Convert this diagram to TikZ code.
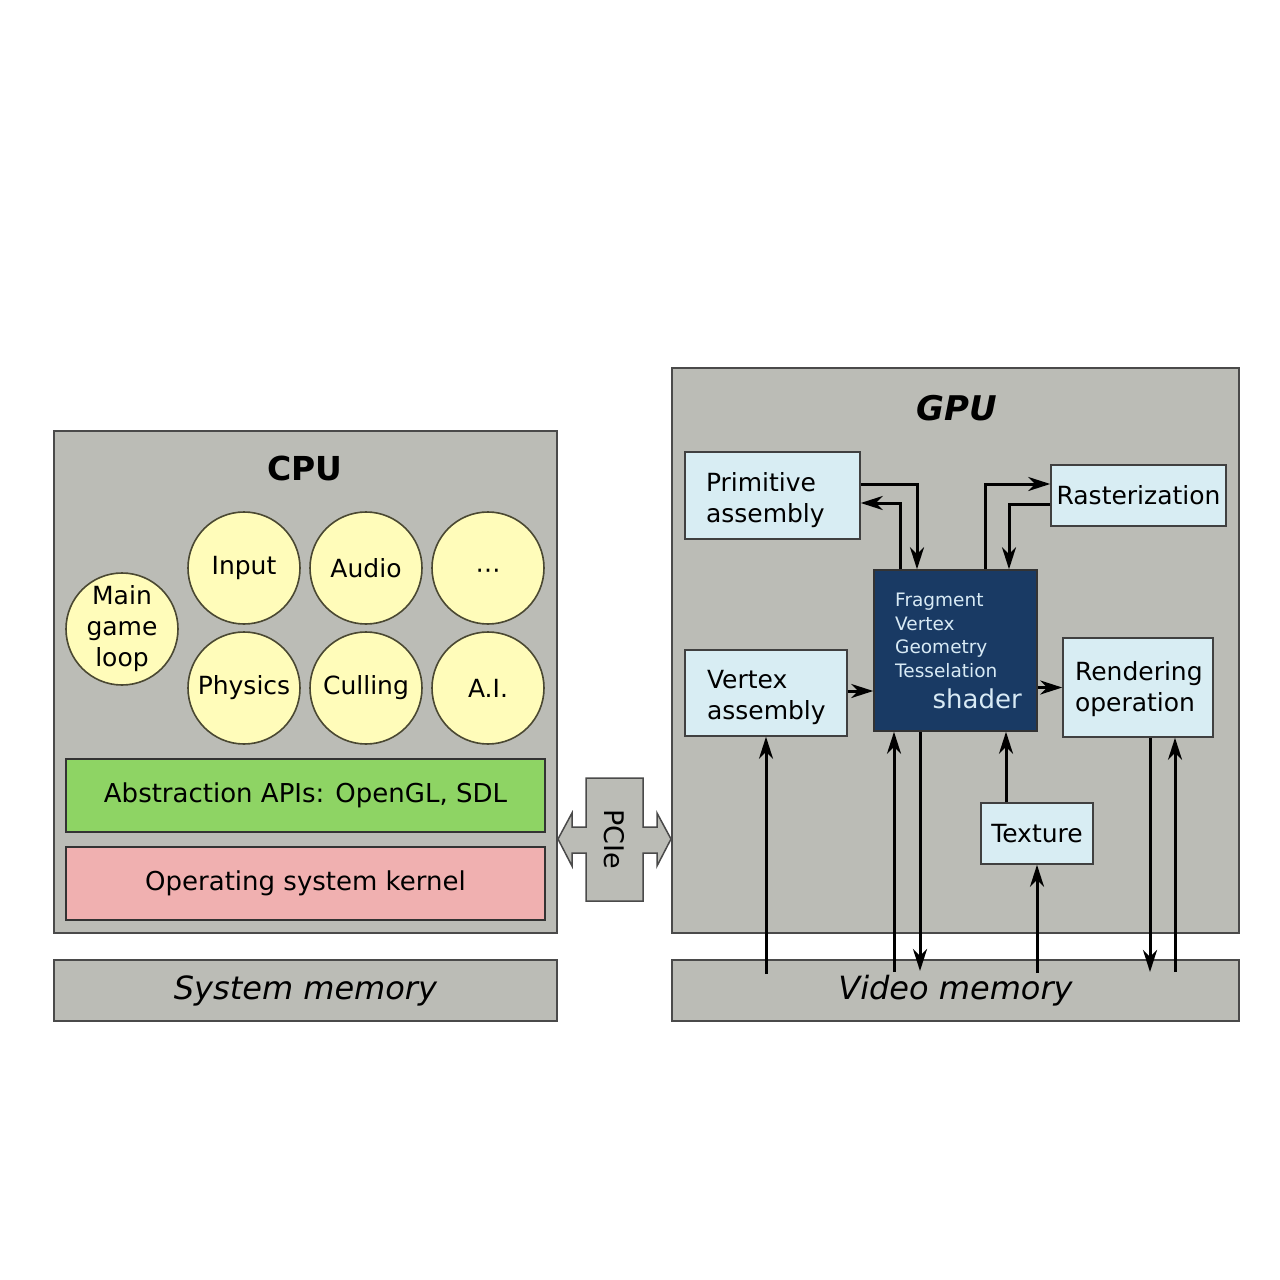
\documentclass[tikz,border=0pt]{standalone}
\usepackage{fontspec}
\setmainfont{DejaVu Sans}
\usetikzlibrary{arrows.meta,calc}
\definecolor{panel}{HTML}{BBBCB6}
\definecolor{boxline}{HTML}{4A4A4A}
\definecolor{ballfill}{HTML}{FFFCBA}
\definecolor{ballline}{HTML}{4A4832}
\definecolor{apigreen}{HTML}{8ED464}
\definecolor{ospink}{HTML}{F0B0B0}
\definecolor{lightblue}{HTML}{D8EDF3}
\definecolor{shaderblue}{HTML}{193A64}
\definecolor{shadertext}{HTML}{D8EAF5}
\newcommand\myfs[2]{\fontsize{#1}{#2}\selectfont}
\newcommand\shiftdown[2]{\raisebox{-#1}[\height][\depth]{#2}}
\begin{document}
\begin{tikzpicture}[x=1pt,y=-1pt,
  sz/.style 2 args={minimum width=#1, minimum height=#2},
  panelbox/.style={draw=boxline, fill=panel, line width=1.5pt, inner sep=0pt},
  ball/.style={circle, draw=ballline, fill=ballfill, line width=1.6pt, minimum size=112pt, inner sep=0pt, align=center, font=\myfs{25}{31}},
  flatbox/.style={draw=black!80, line width=1.5pt, sz={479}{73}, font=\myfs{26}{31}},
  bluebox/.style={draw=black!75, fill=lightblue, line width=1.5pt, align=left, inner sep=2pt, font=\myfs{25}{31}},
  leftbox/.style 2 args={draw=black!75, fill=lightblue, line width=1.5pt, align=left, inner ysep=0pt, inner xsep=#1, text width=#2, font=\myfs{25}{31}},
  shaderbox/.style={draw=black!80, fill=shaderblue, line width=1.5pt},
  arr/.style={line width=3pt, -{Stealth[length=22pt,width=14pt,inset=7pt]}}]
\useasboundingbox[fill=white] (0,0) rectangle (1280,1280);

% CPU side
\node[panelbox, sz={503}{502}] (cpu) at (305.5,682) {};
\node[font=\bfseries\myfs{33}{40}] (cputitle) at (305,468) {CPU};
\node[ball] (mainloop) at (122,629) {Main\\game\\loop};
\node[ball] (input) at (244,568) {Input};
\node[ball] (audio) at (366,568) {Audio};
\node[ball] (more) at (488,568) {\shiftdown{6pt}{⋯}};
\node[ball] (physics) at (244,688) {Physics};
\node[ball] (culling) at (366,688) {Culling};
\node[ball] (ai) at (488,688) {A.I.};
\node[flatbox, fill=apigreen] (api) at (305.5,795.5) {Abstraction APIs: OpenGL, SDL};
\node[flatbox, fill=ospink] (os) at (305.5,883.5) {Operating system kernel};
\node[panelbox, sz={503}{61}, font=\itshape\myfs{32}{38}] (sysmem) at (305.5,990.5) {System memory};

% PCIe
\draw[draw=boxline, fill=panel, line width=1.5pt]
  (586,778) -- (643,778) -- (643,827) -- (657,827) -- (657,813) -- (671,839)
  -- (657,866) -- (657,853) -- (643,853) -- (643,901) -- (586,901) -- (586,853)
  -- (572,853) -- (572,866) -- (558,839) -- (572,813) -- (572,827) -- (586,827) -- cycle;
\node[rotate=-90, font=\myfs{27}{32}] (pcie) at (614,839) {PCIe};

% GPU side
\node[panelbox, sz={567}{565}] (gpu) at (955.5,650.5) {};
\node[font=\bfseries\itshape\myfs{34}{40}] (gputitle) at (957,408) {GPU};
\node[panelbox, sz={567}{61}, font=\itshape\myfs{32}{38}] (vidmem) at (955.5,990.5) {Video memory};

\node[leftbox={21pt}{133pt}, minimum height=87pt] (prim) at (772.5,495.5) {\shiftdown{5pt}{\parbox{133pt}{Primitive\\assembly}}};
\node[bluebox, sz={175}{61}] (rast) at (1138.5,495.5) {Rasterization};
\node[shaderbox, sz={163}{161}] (shader) at (955.5,650.5) {};
\node[anchor=west, align=left, inner sep=0pt, text=shadertext, font=\myfs{18.5}{23.5}] (shaderlist) at (895,635.5) {Fragment\\Vertex\\Geometry\\Tesselation};
\node[anchor=east, inner sep=0pt, text=shadertext, font=\myfs{26}{31}] (shadername) at (1022,698.5) {shader};
\node[leftbox={22pt}{118pt}, minimum height=86pt] (vert) at (766,693) {\shiftdown{4pt}{\parbox{118pt}{Vertex\\assembly}}};
\node[leftbox={12pt}{126pt}, minimum height=99pt] (rend) at (1138,687.5) {\shiftdown{1.5pt}{\parbox{126pt}{Rendering\\operation}}};
\node[bluebox, sz={112}{61}] (tex) at (1037,833.5) {Texture};

% free ends in video memory
\coordinate (vmA) at (766,974);
\coordinate (vmB) at (894,972);
\coordinate (vmC) at (920,971);
\coordinate (vmD) at (1037,973);
\coordinate (vmE) at (1150,972);
\coordinate (vmF) at (1175,972);

% connectors
\draw[arr] ([yshift=11.5pt]prim.east) -| ([xshift=-38.5pt]shader.north);
\draw[arr] ([xshift=-55.5pt]shader.north) |- ([yshift=-7.5pt]prim.east);
\draw[arr] ([xshift=29.5pt]shader.north) |- ([yshift=11.5pt]rast.west);
\draw[arr] ([yshift=-8.5pt]rast.west) -| ([xshift=53.5pt]shader.north);
\draw[arr] ([yshift=2pt]vert.east) -- ([yshift=2pt]vert.east -| shader.west);
\draw[arr] (rend.west -| shader.east) -- (rend.west);
\draw[arr] ([xshift=-31pt]tex.north) -- ([xshift=-31pt]tex.north |- shader.south);
\draw[arr] (vmD) -- (tex.south);
\draw[arr] (vmA) -- (vert.south);
\draw[arr] (vmB) -- (vmB |- shader.south);
\draw[arr] (vmC |- shader.south) -- (vmC);
\draw[arr] (vmE |- rend.south) -- (vmE);
\draw[arr] (vmF) -- (vmF |- rend.south);
\end{tikzpicture}
\end{document}
